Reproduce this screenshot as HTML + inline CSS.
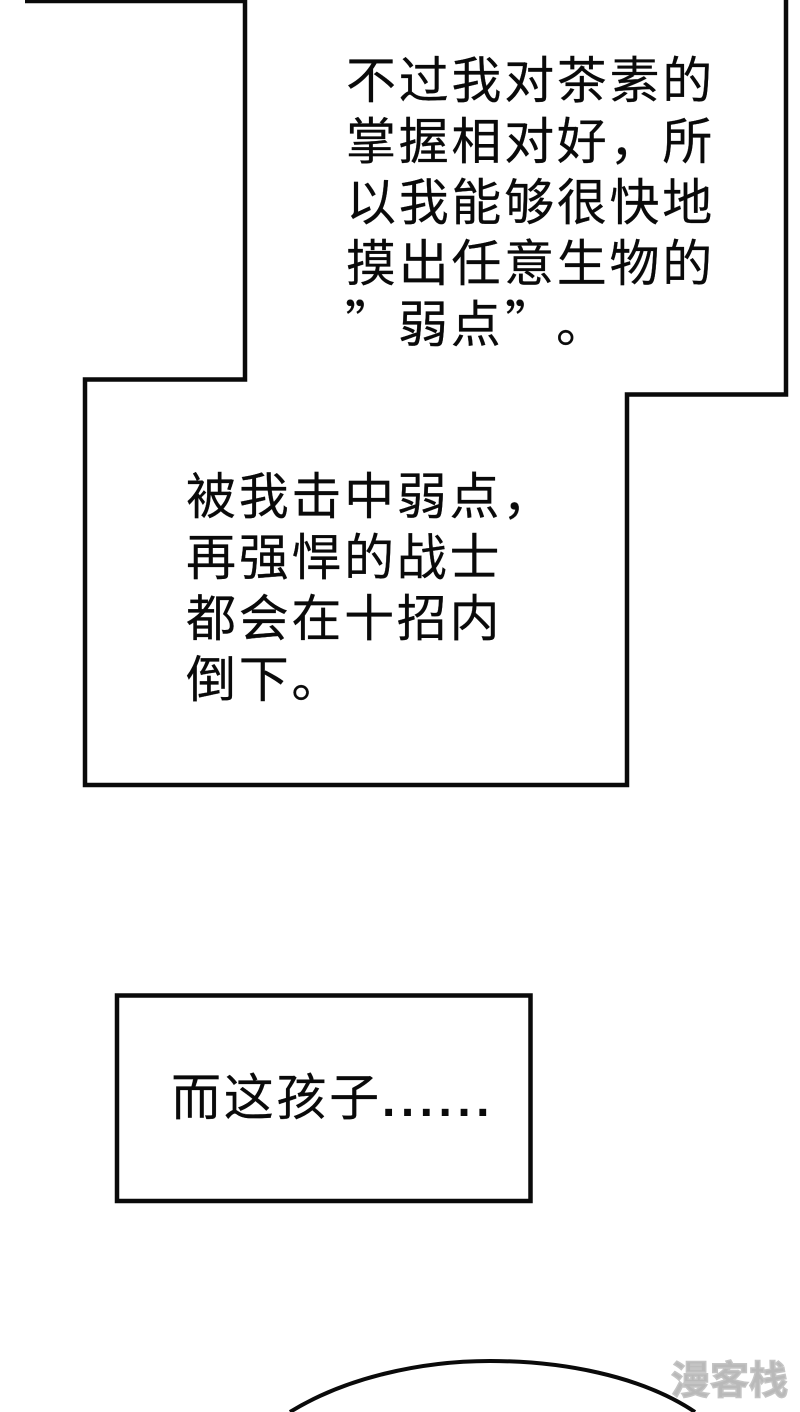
<!DOCTYPE html>
<html lang="zh">
<head>
<meta charset="utf-8">
<style>
html,body{margin:0;padding:0;background:#fff;width:800px;height:1412px;overflow:hidden}
svg{display:block}
.t{font-family:"WenQuanYi Zen Hei","Noto Sans CJK SC",sans-serif;font-size:50px;fill:#0a0a0a;stroke:#0a0a0a;stroke-width:.2px;letter-spacing:2.700px}
.d{font-family:"Liberation Sans",sans-serif;font-size:48px;fill:#0a0a0a;letter-spacing:5.500px;font-weight:bold}
.w{font-family:"WenQuanYi Zen Hei","Noto Sans CJK SC",sans-serif;font-size:39px;font-weight:bold;fill:#b9b9b9;stroke:#c4c4c4;stroke-width:1.500px}
</style>
</head>
<body>
<svg width="800" height="1412" viewBox="0 0 800 1412" xmlns="http://www.w3.org/2000/svg">
<rect width="800" height="1412" fill="#fff"/>
<g fill="none" stroke="#0a0a0a" stroke-width="4.500" stroke-linejoin="miter">
<path d="M25 1H245V379.500H85V785H627V394.500H786V0"/>
<rect x="117" y="995.500" width="413.500" height="205.500"/>
</g>
<path d="M290 1412C345 1378 420 1361 490 1361C560 1361 640 1375 695 1412" fill="none" stroke="#0a0a0a" stroke-width="4"/>
<text class="t" x="346" y="98">不过我对茶素的</text>
<text class="t" x="346" y="159">掌握相对好，所</text>
<text class="t" x="346" y="220">以我能够很快地</text>
<text class="t" x="346" y="281">摸出任意生物的</text>
<text class="t" y="342"><tspan x="345">”</tspan><tspan x="398">弱点</tspan><tspan x="505">”</tspan><tspan x="556">。</tspan></text>
<text class="t" x="186" y="514">被我击中弱点，</text>
<text class="t" x="186" y="575">再强悍的战士</text>
<text class="t" x="186" y="636">都会在十招内</text>
<text class="t" x="186" y="697">倒下。</text>
<text class="t" x="171" y="1115">而这孩子</text>
<text class="d" x="382" y="1116">......</text>
<text class="w" x="671" y="1394">漫客栈</text>
</svg>
</body>
</html>
